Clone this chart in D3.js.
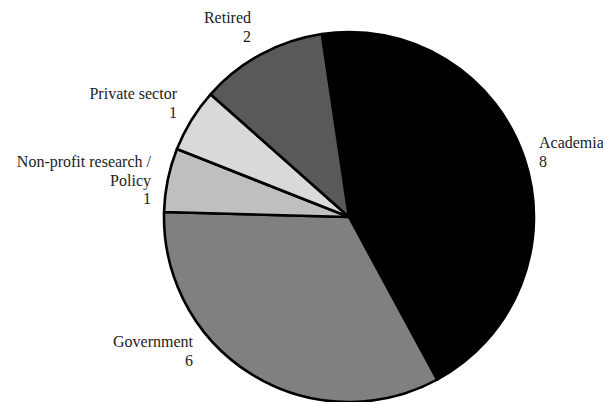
<!DOCTYPE html>
<html>
<head>
<meta charset="utf-8">
<script src="https://cdn.jsdelivr.net/npm/d3@7"></script>
<style>
  html, body { margin: 0; padding: 0; background: #fff; }
</style>
</head>
<body>
<svg id="chart" width="603" height="402"></svg>
<script>
// Sector of employment, respondent counts
const categories = ["Academia", "Government", "Non-profit research / Policy", "Private sector", "Retired"];
const values = [8, 6, 1, 1, 2];
const labelLines = [["Academia"], ["Government"], ["Non-profit research /", "Policy"], ["Private sector"], ["Retired"]];

const fills = ["#000000", "#808080", "#bfbfbf", "#d9d9d9", "#595959"];

// Label placement relative to pie centre: first baseline offset and anchor
const labelLayout = [
  { dx: 190, dy: -69, anchor: "start" },
  { dx: -156, dy: 130, anchor: "end" },
  { dx: -198, dy: -50, anchor: "end" },
  { dx: -172, dy: -118, anchor: "end" },
  { dx: -98, dy: -194, anchor: "end" }
];

const fontStack = "'Times New Roman', 'Liberation Serif', 'DejaVu Serif', serif";
const cx = 349, cy = 217, radius = 185, lineGap = 18.5;
const startDeg = -8.45;

const svg = d3.select("#chart");
const g = svg.append("g").attr("transform", `translate(${cx},${cy})`);

const data = categories.map((c, i) => ({ category: c, value: values[i], i }));

const pie = d3.pie()
  .value(d => d.value)
  .sort(null)
  .startAngle(startDeg * Math.PI / 180)
  .endAngle((startDeg + 360) * Math.PI / 180);

const arc = d3.arc().innerRadius(0).outerRadius(radius);

g.selectAll("path.slice")
  .data(pie(data))
  .join("path")
  .attr("class", "slice")
  .attr("d", arc)
  .attr("fill", d => fills[d.data.i])
  .attr("stroke", "#000")
  .attr("stroke-width", 2.6)
  .attr("stroke-linejoin", "round");

const labels = g.selectAll("text.lbl")
  .data(data)
  .join("text")
  .attr("class", "lbl")
  .attr("font-family", fontStack)
  .attr("font-size", 16)
  .attr("fill", "#222")
  .attr("text-anchor", d => labelLayout[d.i].anchor)
  .attr("x", d => labelLayout[d.i].dx)
  .attr("y", d => labelLayout[d.i].dy);

labels.each(function(d) {
  const t = d3.select(this);
  const lines = labelLines[d.i].concat([String(d.value)]);
  lines.forEach((ln, k) => {
    t.append("tspan")
      .attr("x", labelLayout[d.i].dx)
      .attr("dy", k === 0 ? 0 : lineGap)
      .text(ln);
  });
});
</script>
</body>
</html>
